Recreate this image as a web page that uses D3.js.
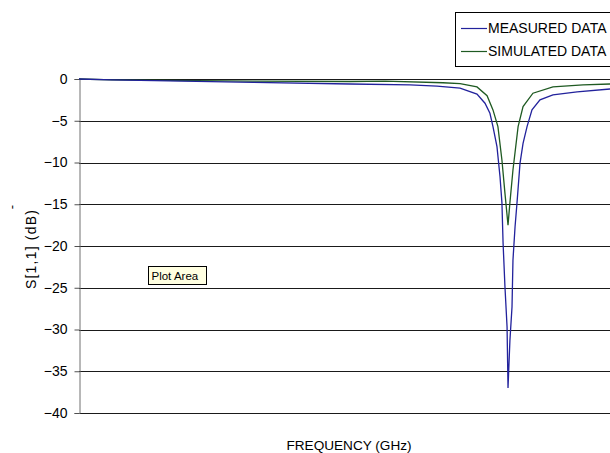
<!DOCTYPE html>
<html>
<head>
<meta charset="utf-8">
<script src="https://cdn.jsdelivr.net/npm/d3@7"></script>
<style>
  body { margin: 0; background: #fff; }
  svg { display: block; font-family: "Liberation Sans", Arial, sans-serif; }
</style>
</head>
<body>
<svg id="chart" width="610" height="453"></svg>
<script>
// frequency (GHz) / S11 (dB)
var measFreq = [1.000, 1.173, 1.914, 2.424, 2.739, 2.881, 3.002, 3.091, 3.133, 3.159, 3.175, 3.196, 3.212,
                3.222, 3.228, 3.238, 3.249, 3.254, 3.264, 3.275, 3.280, 3.291, 3.301, 3.317, 3.333, 3.354,
                3.380, 3.422, 3.490, 3.617, 3.790, 4.000];
var measDb = [0, -0.1, -0.4, -0.6, -0.7, -0.85, -1.1, -1.8, -2.9, -4.1, -5.7, -8.1, -11.7,
              -14.8, -19.6, -24.9, -29.7, -37.0, -31.3, -27.3, -21.7, -17.7, -14.9, -10.1, -7.7, -5.7,
              -3.7, -2.5, -1.9, -1.55, -1.2, -1.15];

var simFreq = [1.000, 1.173, 1.914, 2.424, 2.608, 2.912, 3.002, 3.091, 3.144, 3.175, 3.201, 3.222, 3.238,
               3.254, 3.264, 3.280, 3.307, 3.333, 3.385, 3.490, 3.648, 3.790, 4.000];
var simDb = [0, -0.1, -0.25, -0.3, -0.25, -0.45, -0.55, -0.95, -2.0, -3.7, -5.7, -9.7, -13.7,
             -17.5, -14.8, -10.9, -5.7, -3.3, -1.7, -0.95, -0.7, -0.6, -0.55];

var yTicks = [0, -5, -10, -15, -20, -25, -30, -35, -40];
var seriesNames = ["MEASURED DATA", "SIMULATED DATA"];
var seriesColors = ["#22229c", "#1f5a22"];

var svg = d3.select("#chart");
var margin = { top: 79, left: 79 };
var plotW = 571, plotH = 334;

var x = d3.scaleLinear().domain([1, 4]).range([margin.left, margin.left + plotW]);
var y = d3.scaleLinear().domain([0, -40]).range([margin.top, margin.top + plotH]);

// gridlines
svg.append("g")
    .selectAll("line")
    .data(yTicks)
    .join("line")
    .attr("x1", margin.left)
    .attr("x2", margin.left + plotW)
    .attr("y1", function (d) { return Math.round(y(d)) + 0.5; })
    .attr("y2", function (d) { return Math.round(y(d)) + 0.5; })
    .attr("stroke", "#1a1a1a")
    .attr("stroke-width", 1);

// y axis
var yAxis = d3.axisLeft(y).tickValues(yTicks).tickSize(5).tickPadding(7);
var gy = svg.append("g")
    .attr("transform", "translate(" + (margin.left + 0.5) + ",0)")
    .call(yAxis);
gy.select(".domain").attr("stroke", "#707070");
gy.selectAll(".tick line").attr("stroke", "#505050");
gy.selectAll(".tick text")
    .attr("font-size", 14)
    .attr("fill", "#000");

// series
var line = d3.line()
    .x(function (d) { return x(d[0]); })
    .y(function (d) { return y(d[1]); });

var measured = d3.zip(measFreq, measDb);
var simulated = d3.zip(simFreq, simDb);

svg.append("path")
    .datum(simulated)
    .attr("d", line)
    .attr("fill", "none")
    .attr("stroke", seriesColors[1])
    .attr("stroke-width", 1.3);

svg.append("path")
    .datum(measured)
    .attr("d", line)
    .attr("fill", "none")
    .attr("stroke", seriesColors[0])
    .attr("stroke-width", 1.3);

// axis titles
svg.append("text")
    .attr("transform", "translate(36,249) rotate(-90)")
    .attr("text-anchor", "middle")
    .attr("font-size", 14)
    .attr("letter-spacing", 1.2)
    .text("S[1,1] (dB)");

svg.append("text")
    .attr("transform", "translate(16,207) rotate(-90)")
    .attr("text-anchor", "middle")
    .attr("font-size", 13)
    .text("-");

svg.append("text")
    .attr("x", 349)
    .attr("y", 450)
    .attr("text-anchor", "middle")
    .attr("font-size", 13.6)
    .text("FREQUENCY (GHz)");

// legend
var legend = svg.append("g");
legend.append("rect")
    .attr("x", 455.5).attr("y", 12.5)
    .attr("width", 200).attr("height", 54)
    .attr("fill", "#fff")
    .attr("stroke", "#000");

var items = legend.selectAll("g.item")
    .data(seriesNames)
    .join("g")
    .attr("class", "item")
    .attr("transform", function (d, i) { return "translate(0," + (28 + i * 23) + ")"; });
items.append("line")
    .attr("x1", 461).attr("x2", 487)
    .attr("y1", 0.5).attr("y2", 0.5)
    .attr("stroke", function (d, i) { return seriesColors[i]; })
    .attr("stroke-width", 1.2);
items.append("text")
    .attr("x", 488)
    .attr("y", 4.5)
    .attr("font-size", 14)
    .text(function (d) { return d; });

// "Plot Area" tooltip
var tip = svg.append("g").attr("transform", "translate(148,266)");
tip.append("rect")
    .attr("x", 0.5).attr("y", 0.5)
    .attr("width", 58).attr("height", 18)
    .attr("fill", "#ffffe1")
    .attr("stroke", "#000");
tip.append("text")
    .attr("x", 3.5).attr("y", 13.5)
    .attr("font-size", 11.5)
    .text("Plot Area");
</script>
</body>
</html>
